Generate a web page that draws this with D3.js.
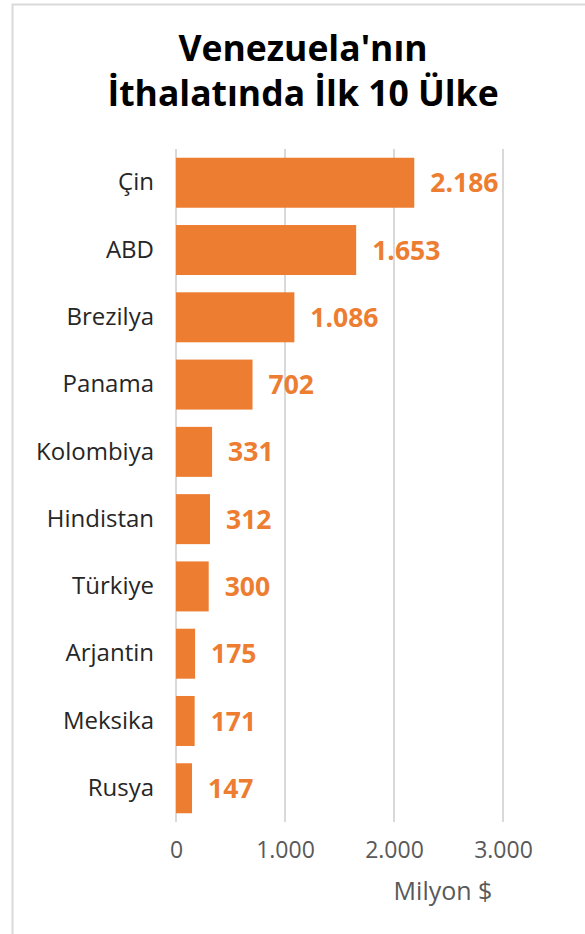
<!DOCTYPE html>
<html>
<head>
<meta charset="utf-8">
<script src="https://cdn.jsdelivr.net/npm/d3@7"></script>
<style>
  body { margin: 0; background: #fff; }
  text { font-family: "Open Sans", sans-serif; }
</style>
</head>
<body>
<div id="chart"></div>
<script>
// values, million $
const countries = ["Çin", "ABD", "Brezilya", "Panama", "Kolombiya", "Hindistan", "Türkiye", "Arjantin", "Meksika", "Rusya"];
const imports = [2186, 1653, 1086, 702, 331, 312, 300, 175, 171, 147];
const xTicks = [0, 1000, 2000, 3000];
const titleLines = ["Venezuela'nın", "İthalatında İlk 10 Ülke"];

const width = 585, height = 934;
const fmt = d => d3.format(",")(d).replace(/,/g, ".");

const svg = d3.select("#chart").append("svg")
	.attr("width", width).attr("height", height);

/* chart frame */
svg.append("rect")
	.attr("x", 12.5).attr("y", 4.5)
	.attr("width", width + 20).attr("height", height + 20)
	.attr("fill", "none").attr("stroke", "#d9d9d9").attr("stroke-width", 2);

svg.append("g").selectAll("text").data(titleLines).enter()
	.append("text")
	.attr("x", 303)
	.attr("y", (d, i) => 61 + i * 45)
	.attr("text-anchor", "middle")
	.attr("font-size", 35.5)
	.attr("font-weight", "bold")
	.attr("fill", "#000")
	.text(d => d);

const x = d3.scaleLinear().domain([0, 3000]).range([176, 503]);
const y = d3.scaleBand().domain(countries).range([149, 822]).paddingInner(0.257).paddingOuter(0.13);

/* gridlines */
svg.append("g").selectAll("line").data(xTicks).enter()
	.append("line")
	.attr("x1", d => x(d)).attr("x2", d => x(d))
	.attr("y1", 149).attr("y2", 822)
	.attr("stroke", "#d9d9d9").attr("stroke-width", 2);

svg.append("g").selectAll("rect").data(imports).enter()
	.append("rect")
	.attr("x", x(0))
	.attr("y", (d, i) => y(countries[i]))
	.attr("width", d => x(d) - x(0))
	.attr("height", y.bandwidth())
	.attr("fill", "#ed7d31");

/* value labels */
svg.append("g").selectAll("text").data(imports).enter()
	.append("text")
	.attr("x", d => x(d) + 16)
	.attr("y", (d, i) => y(countries[i]) + y.bandwidth() / 2)
	.attr("dy", "0.36em")
	.attr("font-size", 26.5)
	.attr("font-weight", "bold")
	.attr("fill", "#ed7d31")
	.text(d => fmt(d));

/* category axis */
const yAxis = d3.axisLeft(y).tickSize(0).tickPadding(22);
svg.append("g")
	.attr("transform", "translate(" + x(0) + ",0)")
	.call(yAxis)
	.call(g => g.select(".domain").remove())
	.call(g => g.selectAll("text").attr("font-size", 24).attr("fill", "#262626").attr("font-family", "Open Sans"));

/* value axis */
const xAxis = d3.axisBottom(x).tickValues(xTicks).tickSize(0).tickPadding(20).tickFormat(fmt);
svg.append("g")
	.attr("transform", "translate(0,822)")
	.call(xAxis)
	.call(g => g.select(".domain").remove())
	.call(g => g.selectAll("text").attr("font-size", 23).attr("fill", "#595959").attr("font-family", "Open Sans"));

svg.append("text")
	.attr("x", 443)
	.attr("y", 900)
	.attr("text-anchor", "middle")
	.attr("font-size", 25)
	.attr("fill", "#595959")
	.text("Milyon $");
</script>
</body>
</html>
